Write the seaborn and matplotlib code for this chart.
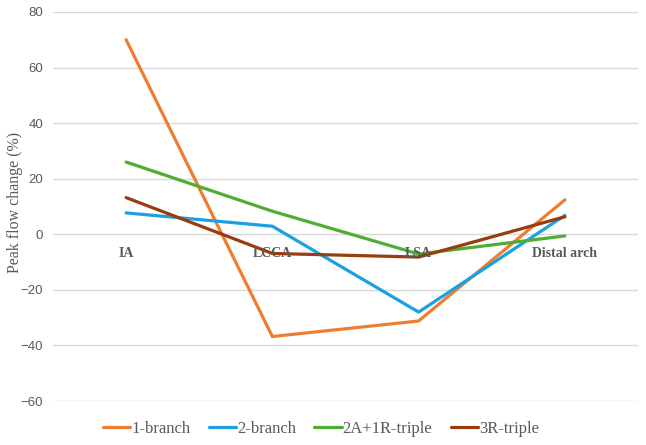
import pandas as pd
import seaborn as sns
import matplotlib.pyplot as plt

# values
sites = ["IA", "LCCA", "LSA", "Distal arch"]
one_branch = [70.0, -36.8, -31.2, 12.4]
two_branch = [7.7, 2.9, -28.0, 6.8]
triple_2a1r = [26.0, 8.3, -7.1, -0.6]
triple_3r = [13.2, -6.9, -8.2, 6.3]

series = {"1-branch": one_branch, "2-branch": two_branch,
          "2A+1R-triple": triple_2a1r, "3R-triple": triple_3r}
colors = {"1-branch": "#ED7D31", "2-branch": "#1BA1E2",
          "2A+1R-triple": "#4EAD33", "3R-triple": "#9A3B10"}

frames = []
for name, vals in series.items():
    frames.append(pd.DataFrame({"Site": sites, "Change": vals, "Type": name}))
df = pd.concat(frames)
df["pos"] = df["Site"].map({s: i for i, s in enumerate(sites)})

sns.set_style("white")
plt.rcParams["font.family"] = ["Liberation Sans", "DejaVu Sans"]
grey = "#595959"
serif = ["Liberation Serif", "DejaVu Serif"]

fig = plt.figure(figsize=(6.46, 4.45), dpi=100)
ax = fig.add_axes([53 / 646, 1 - 401 / 445, 585 / 646, 389 / 445])

ax1 = sns.lineplot(data=df, x="pos", y="Change", hue="Type", palette=colors,
                   linewidth=2.3, sort=False, ax=ax, legend=False)

ax1.set_xlim(-0.5, 3.5)
ax1.set_ylim(-60, 80)
ax1.set_yticks(range(-60, 81, 20))
ax1.yaxis.grid(True, color="#d9d9d9", linewidth=1)
ax1.set_axisbelow(True)
for s in ax1.spines.values():
    s.set_visible(False)
ax1.tick_params(axis="y", length=0, pad=7, labelsize=9.5, labelcolor=grey)

# category labels sit just below the zero line, like Excel's axis
ax1.set_xticks([])
ax1.set_xlabel("")
for i, s in enumerate(sites):
    ax1.text(i, -4.5, s, ha="center", va="top", fontsize=10, fontweight="bold",
             color=grey, family=serif)

ax1.set_ylabel("Peak flow change (%)", fontsize=11.5, color=grey, family=serif)
ax1.yaxis.set_label_coords(-30 / 585, 0.51)

handles = [plt.Line2D([], [], color=colors[n], linewidth=2.3) for n in series]
fig.legend(handles, list(series), loc="center", bbox_to_anchor=(321 / 646, 1 - 429 / 445),
           ncol=4, frameon=False, handlelength=1.65, handletextpad=0.05,
           columnspacing=1.1, prop={"family": "Liberation Serif", "size": 12},
           labelcolor=grey)

fig.savefig("out.png", dpi=100)
